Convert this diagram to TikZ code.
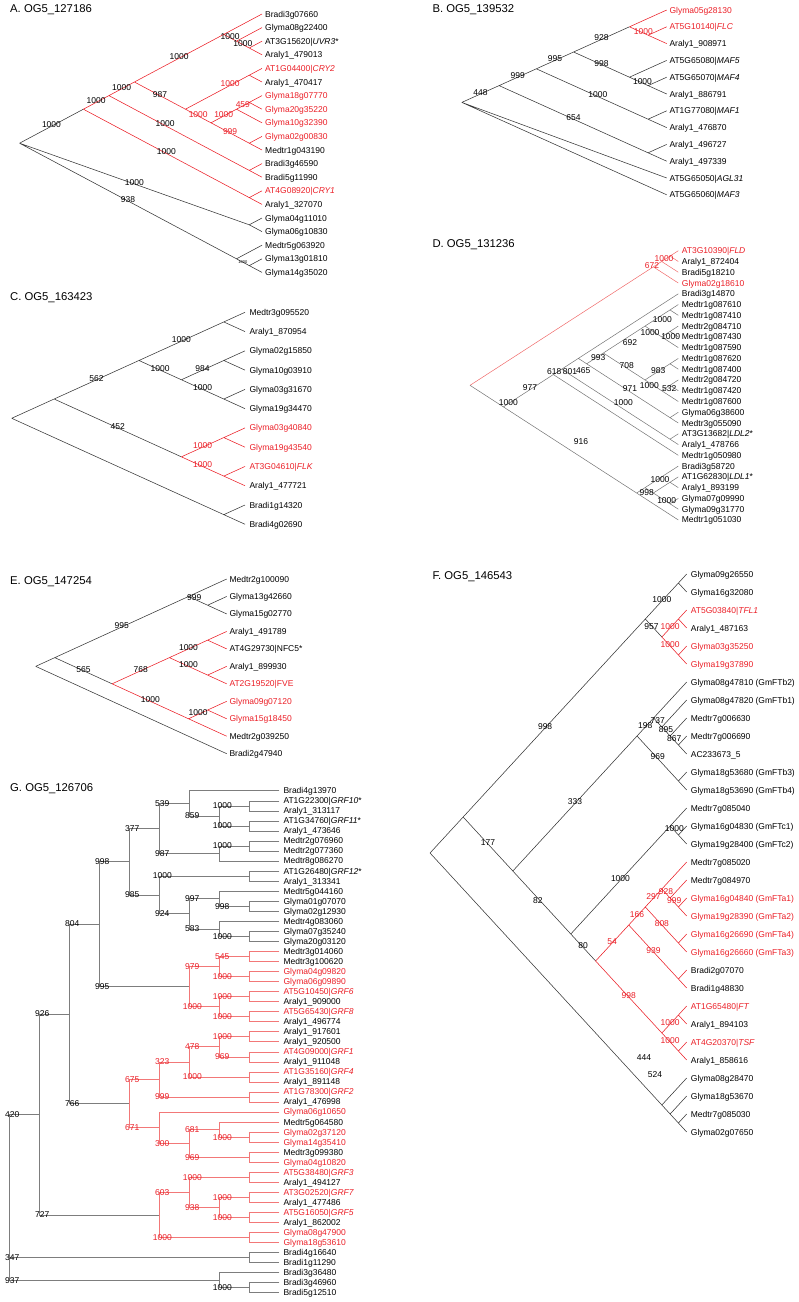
\documentclass[tikz,border=0pt]{standalone}
\usepackage{fontspec}
\setmainfont{Liberation Sans}
\usetikzlibrary{calc}
\definecolor{rd}{RGB}{235,30,38}
\definecolor{lk}{RGB}{55,55,55}
\definecolor{dk}{RGB}{115,115,115}
\definecolor{drd}{RGB}{240,105,105}
\definecolor{gk}{RGB}{125,125,125}
\definecolor{grd}{RGB}{242,120,120}
\newcounter{nn}
\newcommand\TX{0}\newcommand\YZ{0}\newcommand\DY{1}\newcommand\SL{1}\newcommand\LX{0}
\newcommand\setp[5]{\renewcommand\TX{#1}\renewcommand\YZ{#2}\renewcommand\DY{#3}\renewcommand\SL{#4}\renewcommand\LX{#5}}
\newcommand\lf[4][]{%
  \coordinate (#2) at (\TX,{\YZ+(#3)*\DY});
  \node[lab,#1] (#2t) at (\LX,{\YZ+(#3)*\DY+3}) {#4};}
\newcommand\nd[3]{\coordinate (#1) at ({\TX-((#3)-(#2))*\DY/2/\SL},{\YZ+((#2)+(#3))*\DY/2});}
\newcommand\gn[3]{\coordinate (#1) at (#2,{790.7+(#3)*10.04});}
\newcommand\gl[4][]{\node[sup,xshift=3pt,#1] at (#2 |- #3) {#4};}
\tikzset{
  an/.code={\stepcounter{nn}\pgfkeysalso{name=n\arabic{nn}}},
  f85/.style={font=\fontsize{8.5}{10}\selectfont},
  lab/.style={f85, anchor=base west, inner sep=0pt},
  rl/.style={text=rd},
  sup/.style={an, f85, inner sep=0pt, anchor=center},
  bs/.style={sup, midway, yshift=1.5pt},
  rs/.style={text=rd},
  kb/.style={draw=lk, line width=0.55pt},
  rb/.style={draw=rd, line width=0.55pt},
  kd/.style={draw=dk, line width=0.5pt},
  rdd/.style={draw=drd, line width=0.5pt},
  kg/.style={draw=gk, line width=0.5pt},
  rg/.style={draw=grd, line width=0.5pt},
  title/.style={font=\fontsize{11.3}{13}\selectfont, anchor=base west, inner sep=0pt}
}
\begin{document}
\begin{tikzpicture}[x=1pt,y=-1pt]
\useasboundingbox (0,0) rectangle (799,1302);
% ================= A =================
\setp{262}{14}{13.6}{0.533}{265}
\node[title] (aT) at (10,12) {A. OG5\_127186};
\lf{a0}{0}{Bradi3g07660}
\lf{a1}{1}{Glyma08g22400}
\lf{a2}{2}{AT3G15620|\textit{UVR3}*}
\lf{a3}{3}{Araly1\_479013}
\lf[rl]{a4}{4}{AT1G04400|\textit{CRY2}}
\lf{a5}{5}{Araly1\_470417}
\lf[rl]{a6}{6}{Glyma18g07770}
\lf[rl]{a7}{7}{Glyma20g35220}
\lf[rl]{a8}{8}{Glyma10g32390}
\lf[rl]{a9}{9}{Glyma02g00830}
\lf{a10}{10}{Medtr1g043190}
\lf{a11}{11}{Bradi3g46590}
\lf{a12}{12}{Bradi5g11990}
\lf[rl]{a13}{13}{AT4G08920|\textit{CRY1}}
\lf{a14}{14}{Araly1\_327070}
\lf{a15}{15}{Glyma04g11010}
\lf{a16}{16}{Glyma06g10830}
\lf{a17}{17}{Medtr5g063920}
\lf{a18}{18}{Glyma13g01810}
\lf{a19}{19}{Glyma14g35020}
\nd{aR}{0}{19}\nd{aN1}{0}{14}\nd{aN2}{0}{12}\nd{aN3}{0}{10}\nd{aC}{0}{3}\nd{aC1}{1}{3}\nd{aC2}{2}{3}
\nd{aN4}{4}{10}\nd{aP45}{4}{5}\nd{aN610}{6}{10}\nd{aN68}{6}{8}\nd{aP67}{6}{7}\nd{aP910}{9}{10}
\nd{aP1112}{11}{12}\nd{aP1314}{13}{14}\nd{aP1516}{15}{16}\nd{aN1719}{17}{19}\nd{aP1819}{18}{19}
\draw[kb] (aR) -- (aN1) node[bs]{1000} (aR) -- (aP1516) node[bs]{1000} (aR) -- (aN1719) node[bs]{938}
  (aP1516) -- (a15) (aP1516) -- (a16) (aN1719) -- (a17)
  (aN1719) -- (aP1819) node[bs,yshift=-1.5pt,font=\fontsize{4}{5}\selectfont]{1000}
  (aP1819) -- (a18) (aP1819) -- (a19);
\draw[rb] (aN1) -- (aN2) node[bs]{1000} (aN1) -- (aP1314) node[bs]{1000}
  (aN2) -- (aN3) node[bs]{1000} (aN2) -- (aP1112) node[bs,pos=0.4]{1000}
  (aN3) -- (aC) node[bs]{1000} (aN3) -- (aN4) node[bs]{987}
  (aC) -- (a0) (aC) -- (aC1) node[bs]{1000} (aC1) -- (a1) (aC1) -- (aC2) node[bs]{1000} (aC2) -- (a2) (aC2) -- (a3)
  (aN4) -- (aP45) node[bs,rs,pos=0.7]{1000} (aN4) -- (aN610) node[bs,rs]{1000}
  (aP45) -- (a4) (aP45) -- (a5)
  (aN610) -- (aN68) node[bs,rs]{1000} (aN610) -- (aP910) node[bs,rs]{999}
  (aN68) -- (aP67) node[bs,rs]{459} (aN68) -- (a8) (aP67) -- (a6) (aP67) -- (a7)
  (aP910) -- (a9) (aP910) -- (a10) (aP1112) -- (a11) (aP1112) -- (a12) (aP1314) -- (a13) (aP1314) -- (a14);
% ================= B =================
\setp{666.7}{10}{16.8}{0.451}{669.3}
\node[title] (bT) at (432.3,12.3) {B. OG5\_139532};
\lf[rl]{b0}{0}{Glyma05g28130}
\lf[rl]{b1}{1}{AT5G10140|\textit{FLC}}
\lf{b2}{2}{Araly1\_908971}
\lf{b3}{3}{AT5G65080|\textit{MAF5}}
\lf{b4}{4}{AT5G65070|\textit{MAF4}}
\lf{b5}{5}{Araly1\_886791}
\lf{b6}{6}{AT1G77080|\textit{MAF1}}
\lf{b7}{7}{Araly1\_476870}
\lf{b8}{8}{Araly1\_496727}
\lf{b9}{9}{Araly1\_497339}
\lf{b10}{10}{AT5G65050|\textit{AGL31}}
\lf{b11}{11}{AT5G65060|\textit{MAF3}}
\nd{bR}{0}{11}\nd{bN09}{0}{9}\nd{bN07}{0}{7}\nd{bN05}{0}{5}\nd{bN02}{0}{2}\nd{bP12}{1}{2}
\nd{bN35}{3}{5}\nd{bP45}{4}{5}\nd{bP67}{6}{7}\nd{bP89}{8}{9}
\draw[kb] (bR) -- (bN09) node[bs]{448} (bR) -- (b10) (bR) -- (b11)
  (bN09) -- (bN07) node[bs]{999} (bN09) -- (bP89) node[bs]{654}
  (bN07) -- (bN05) node[bs]{995} (bN07) -- (bP67) node[bs,pos=0.55]{1000}
  (bN05) -- (bN02) node[bs]{928} (bN05) -- (bN35) node[bs]{998}
  (bN35) -- (b3) (bN35) -- (bP45) node[bs,pos=0.7]{1000} (bP45) -- (b4) (bP45) -- (b5)
  (bP67) -- (b6) (bP67) -- (b7) (bP89) -- (b8) (bP89) -- (b9);
\draw[rb] (bN02) -- (b0) (bN02) -- (bP12) node[bs,rs,pos=0.75]{1000} (bP12) -- (b1) (bP12) -- (b2);
% ================= C =================
\setp{245}{312.3}{19.27}{0.4543}{249.3}
\node[title] (cT) at (10,300) {C. OG5\_163423};
\lf{c0}{0}{Medtr3g095520}
\lf{c1}{1}{Araly1\_870954}
\lf{c2}{2}{Glyma02g15850}
\lf{c3}{3}{Glyma10g03910}
\lf{c4}{4}{Glyma03g31670}
\lf{c5}{5}{Glyma19g34470}
\lf[rl]{c6}{6}{Glyma03g40840}
\lf[rl]{c7}{7}{Glyma19g43540}
\lf[rl]{c8}{8}{AT3G04610|\textit{FLK}}
\lf{c9}{9}{Araly1\_477721}
\lf{c10}{10}{Bradi1g14320}
\lf{c11}{11}{Bradi4g02690}
\nd{cR}{0}{11}\nd{cN09}{0}{9}\nd{cN05}{0}{5}\nd{cP01}{0}{1}\nd{cN25}{2}{5}\nd{cP23}{2}{3}\nd{cP45}{4}{5}
\nd{cN69}{6}{9}\nd{cP67}{6}{7}\nd{cP89}{8}{9}\nd{cP1011}{10}{11}
\draw[kb] (cR) -- (cN09) (cR) -- (cP1011)
  (cN09) -- (cN05) node[bs]{562} (cN09) -- (cN69) node[bs]{452}
  (cN05) -- (cP01) node[bs]{1000} (cN05) -- (cN25) node[bs]{1000}
  (cN25) -- (cP23) node[bs]{984} (cN25) -- (cP45) node[bs]{1000}
  (cP01) -- (c0) (cP01) -- (c1) (cP23) -- (c2) (cP23) -- (c3) (cP45) -- (c4) (cP45) -- (c5)
  (cP1011) -- (c10) (cP1011) -- (c11);
\draw[rb] (cN69) -- (cP67) node[bs,rs]{1000} (cN69) -- (cP89) node[bs,rs]{1000}
  (cP67) -- (c6) (cP67) -- (c7) (cP89) -- (c8) (cP89) -- (c9);
% ================= D =================
\setp{678.3}{250.7}{10.77}{0.6464}{681.7}
\node[title] (dT) at (432.3,247.3) {D. OG5\_131236};
\lf[rl]{d0}{0}{AT3G10390|\textit{FLD}}
\lf{d1}{1}{Araly1\_872404}
\lf{d2}{2}{Bradi5g18210}
\lf[rl]{d3}{3}{Glyma02g18610}
\lf{d4}{4}{Bradi3g14870}
\lf{d5}{5}{Medtr1g087610}
\lf{d6}{6}{Medtr1g087410}
\lf{d7}{7}{Medtr2g084710}
\lf{d8}{8}{Medtr1g087430}
\lf{d9}{9}{Medtr1g087590}
\lf{d10}{10}{Medtr1g087620}
\lf{d11}{11}{Medtr1g087400}
\lf{d12}{12}{Medtr2g084720}
\lf{d13}{13}{Medtr1g087420}
\lf{d14}{14}{Medtr1g087600}
\lf{d15}{15}{Glyma06g38600}
\lf{d16}{16}{Medtr3g055090}
\lf{d17}{17}{AT3G13682|\textit{LDL2}*}
\lf{d18}{18}{Araly1\_478766}
\lf{d19}{19}{Medtr1g050980}
\lf{d20}{20}{Bradi3g58720}
\lf{d21}{21}{AT1G62830|\textit{LDL1}*}
\lf{d22}{22}{Araly1\_893199}
\lf{d23}{23}{Glyma07g09990}
\lf{d24}{24}{Glyma09g31770}
\lf{d25}{25}{Medtr1g051030}
\nd{dR}{0}{25}\nd{dN03}{0}{3}\nd{dN02}{0}{2}\nd{dP01}{0}{1}
\nd{dN425}{4}{25}\nd{dN419}{4}{19}\nd{dN418}{4}{18}\nd{dN416}{4}{16}\nd{dN516}{5}{16}\nd{dN514}{5}{14}
\nd{dN59}{5}{9}\nd{dP56}{5}{6}\nd{dN79}{7}{9}\nd{dP78}{7}{8}
\nd{dN1014}{10}{14}\nd{dP1011}{10}{11}\nd{dN1214}{12}{14}\nd{dP1213}{12}{13}
\nd{dP1516}{15}{16}\nd{dP1718}{17}{18}
\nd{dN2025}{20}{25}\nd{dN2024}{20}{24}\nd{dN2124}{21}{24}\nd{dP2122}{21}{22}\nd{dP2324}{23}{24}
\draw[rdd] (dR) -- (dN03) (dN03) -- (dN02) (dN03) -- (d3) (dN02) -- (dP01) (dN02) -- (d2) (dP01) -- (d0) (dP01) -- (d1);
\draw[kd] (dR) -- (dN425) (dN425) -- (dN419) (dN425) -- (dN2025)
  (dN419) -- (dN418) (dN419) -- (d19) (dN418) -- (dN416) (dN418) -- (dP1718)
  (dN416) -- (d4) (dN416) -- (dN516) (dN516) -- (dN514) (dN516) -- (dP1516)
  (dN514) -- (dN59) (dN514) -- (dN1014)
  (dN59) -- (dP56) (dN59) -- (dN79) (dN79) -- (dP78) (dN79) -- (d9)
  (dP78) -- (d7) (dP78) -- (d8) (dP56) -- (d5) (dP56) -- (d6)
  (dN1014) -- (dP1011) (dN1014) -- (dN1214) (dN1214) -- (dP1213) (dN1214) -- (d14)
  (dP1213) -- (d12) (dP1213) -- (d13) (dP1011) -- (d10) (dP1011) -- (d11)
  (dP1516) -- (d15) (dP1516) -- (d16) (dP1718) -- (d17) (dP1718) -- (d18)
  (dN2025) -- (dN2024) (dN2025) -- (d25) (dN2024) -- (d20) (dN2024) -- (dN2124)
  (dN2124) -- (dP2122) (dN2124) -- (dP2324) (dP2122) -- (d21) (dP2122) -- (d22) (dP2324) -- (d23) (dP2324) -- (d24);
\node[sup,rs] at (652,265.5) {672};
\node[sup,rs] at (664,258.5) {1000};
\node[sup] at (508.3,402.7) {1000};
\node[sup] at (530,387.7) {977};
\node[sup] at (581,441.7) {916};
\node[sup] at (554.3,371.7) {618};
\node[sup] at (570,371.7) {801};
\node[sup] at (583.3,370.7) {465};
\node[sup] at (598.3,357.7) {993};
\node[sup] at (630,342.3) {692};
\node[sup] at (662.3,320) {1000};
\node[sup] at (650,332.3) {1000};
\node[sup] at (670.7,336.7) {1000};
\node[sup] at (626.7,366) {708};
\node[sup] at (658.3,371) {983};
\node[sup] at (649.3,385.3) {1000};
\node[sup] at (669.3,388.3) {532};
\node[sup] at (630,389) {971};
\node[sup] at (623.3,402.3) {1000};
\node[sup] at (646.7,492.7) {998};
\node[sup] at (660,479.3) {1000};
\node[sup] at (666.7,500.7) {1000};
% ================= E =================
\setp{226.7}{579}{17.47}{0.4573}{229.3}
\node[title] (eT) at (10,584.7) {E. OG5\_147254};
\lf{e0}{0}{Medtr2g100090}
\lf{e1}{1}{Glyma13g42660}
\lf{e2}{2}{Glyma15g02770}
\lf{e3}{3}{Araly1\_491789}
\lf{e4}{4}{AT4G29730|NFC5*}
\lf{e5}{5}{Araly1\_899930}
\lf[rl]{e6}{6}{AT2G19520|FVE}
\lf[rl]{e7}{7}{Glyma09g07120}
\lf[rl]{e8}{8}{Glyma15g18450}
\lf{e9}{9}{Medtr2g039250}
\lf{e10}{10}{Bradi2g47940}
\nd{eR}{0}{10}\nd{eN09}{0}{9}\nd{eN02}{0}{2}\nd{eP12}{1}{2}\nd{eN39}{3}{9}\nd{eN36}{3}{6}
\nd{eP34}{3}{4}\nd{eP56}{5}{6}\nd{eN79}{7}{9}\nd{eP78}{7}{8}
\draw[kb] (eR) -- (eN09) (eR) -- (e10) (eN09) -- (eN02) node[bs]{995} (eN09) -- (eN39) node[bs]{565}
  (eN02) -- (e0) (eN02) -- (eP12) node[bs,pos=0.3]{999} (eP12) -- (e1) (eP12) -- (e2);
\draw[rb] (eN39) -- (eN36) node[bs]{768} (eN39) -- (eN79) node[bs]{1000}
  (eN36) -- (eP34) node[bs]{1000} (eN36) -- (eP56) node[bs]{1000}
  (eP34) -- (e3) (eP34) -- (e4) (eP56) -- (e5) (eP56) -- (e6)
  (eN79) -- (eP78) node[bs]{1000} (eN79) -- (e9) (eP78) -- (e7) (eP78) -- (e8);
% ================= F =================
\setp{686.7}{574}{18}{1.087}{690.7}
\node[title] (fT) at (432.3,579.7) {F. OG5\_146543};
\lf{f0}{0}{Glyma09g26550}
\lf{f1}{1}{Glyma16g32080}
\lf[rl]{f2}{2}{AT5G03840|\textit{TFL1}}
\lf{f3}{3}{Araly1\_487163}
\lf[rl]{f4}{4}{Glyma03g35250}
\lf[rl]{f5}{5}{Glyma19g37890}
\lf{f6}{6}{Glyma08g47810 (GmFTb2)}
\lf{f7}{7}{Glyma08g47820 (GmFTb1)}
\lf{f8}{8}{Medtr7g006630}
\lf{f9}{9}{Medtr7g006690}
\lf{f10}{10}{AC233673\_5}
\lf{f11}{11}{Glyma18g53680 (GmFTb3)}
\lf{f12}{12}{Glyma18g53690 (GmFTb4)}
\lf{f13}{13}{Medtr7g085040}
\lf{f14}{14}{Glyma16g04830 (GmFTc1)}
\lf{f15}{15}{Glyma19g28400 (GmFTc2)}
\lf{f16}{16}{Medtr7g085020}
\lf{f17}{17}{Medtr7g084970}
\lf[rl]{f18}{18}{Glyma16g04840 (GmFTa1)}
\lf[rl]{f19}{19}{Glyma19g28390 (GmFTa2)}
\lf[rl]{f20}{20}{Glyma16g26690 (GmFTa4)}
\lf[rl]{f21}{21}{Glyma16g26660 (GmFTa3)}
\lf{f22}{22}{Bradi2g07070}
\lf{f23}{23}{Bradi1g48830}
\lf[rl]{f24}{24}{AT1G65480|\textit{FT}}
\lf{f25}{25}{Araly1\_894103}
\lf[rl]{f26}{26}{AT4G20370|\textit{TSF}}
\lf{f27}{27}{Araly1\_858616}
\lf{f28}{28}{Glyma08g28470}
\lf{f29}{29}{Glyma18g53670}
\lf{f30}{30}{Medtr7g085030}
\lf{f31}{31}{Glyma02g07650}
\nd{fR}{0}{31}\nd{fX}{0}{27}\nd{fN05}{0}{5}\nd{fP01}{0}{1}\nd{fN25}{2}{5}\nd{fP23}{2}{3}\nd{fP45}{4}{5}
\nd{fY}{6}{27}\nd{fN612}{6}{12}\nd{fN610}{6}{10}\nd{fN710}{7}{10}\nd{fN810}{8}{10}\nd{fP910}{9}{10}\nd{fP1112}{11}{12}
\nd{fZ}{13}{27}\nd{fN1315}{13}{15}\nd{fP1415}{14}{15}\nd{fW}{16}{27}\nd{fN1623}{16}{23}\nd{fN1621}{16}{21}
\nd{fN1619}{16}{19}\nd{fN1719}{17}{19}\nd{fP1819}{18}{19}\nd{fP2021}{20}{21}\nd{fP2223}{22}{23}
\nd{fN2427}{24}{27}\nd{fP2425}{24}{25}\nd{fP2627}{26}{27}
\nd{fN2831}{28}{31}\nd{fN2931}{29}{31}\nd{fP3031}{30}{31}
\draw[kb] (fR) -- (fX) (fR) -- (fN2831)
  (fX) -- (fN05) node[bs,pos=0.45]{998} (fX) -- (fY) node[bs]{177}
  (fN05) -- (fP01) node[bs]{1000} (fN05) -- (fN25) node[bs,xshift=-2pt]{957}
  (fP01) -- (f0) (fP01) -- (f1)
  (fY) -- (fN612) node[bs]{333} (fY) -- (fZ) node[bs,xshift=-4pt]{82}
  (fN612) -- (fN610) node[bs]{198} (fN612) -- (fP1112) node[bs]{969}
  (fN610) -- (f6) (fN610) -- (fN710) node[bs]{737} (fN710) -- (f7) (fN710) -- (fN810) node[bs]{895}
  (fN810) -- (f8) (fN810) -- (fP910) node[bs]{867} (fP910) -- (f9) (fP910) -- (f10)
  (fP1112) -- (f11) (fP1112) -- (f12)
  (fZ) -- (fN1315) node[bs]{1000} (fZ) -- (fW) node[bs]{80}
  (fN1315) -- (f13) (fN1315) -- (fP1415) node[bs]{1000} (fP1415) -- (f14) (fP1415) -- (f15)
  (fN2831) -- (f28) (fN2831) -- (fN2931) (fN2931) -- (f29) (fN2931) -- (fP3031) (fP3031) -- (f30) (fP3031) -- (f31);
\draw[rb] (fN25) -- (fP23) node[bs,rs]{1000} (fN25) -- (fP45) node[bs,rs]{1000}
  (fP23) -- (f2) (fP23) -- (f3) (fP45) -- (f4) (fP45) -- (f5)
  (fW) -- (fN1623) node[bs,rs]{54} (fW) -- (fN2427) node[bs,rs]{998}
  (fN1623) -- (fN1621) node[bs,rs]{166} (fN1623) -- (fP2223) node[bs,rs]{939}
  (fN1621) -- (fN1619) node[bs,rs]{297} (fN1621) -- (fP2021) node[bs,rs]{808}
  (fN1619) -- (f16) (fN1619) -- (fN1719) node[bs,rs]{928} (fN1719) -- (f17) (fN1719) -- (fP1819) node[bs,rs]{999}
  (fP1819) -- (f18) (fP1819) -- (f19) (fP2021) -- (f20) (fP2021) -- (f21) (fP2223) -- (f22) (fP2223) -- (f23)
  (fN2427) -- (fP2425) node[bs,rs]{1000} (fN2427) -- (fP2627) node[bs,rs]{1000}
  (fP2425) -- (f24) (fP2425) -- (f25) (fP2627) -- (f26) (fP2627) -- (f27);
\node[sup] at (644,1058) {444};
\node[sup] at (655,1075) {524};
% ================= G =================
\setp{279.3}{790.7}{10.04}{1}{283.3}
\node[title] (gT) at (10,791.7) {G. OG5\_126706};
\lf{g0}{0}{Bradi4g13970}
\lf{g1}{1}{AT1G22300|\textit{GRF10}*}
\lf{g2}{2}{Araly1\_313117}
\lf{g3}{3}{AT1G34760|\textit{GRF11}*}
\lf{g4}{4}{Araly1\_473646}
\lf{g5}{5}{Medtr2g076960}
\lf{g6}{6}{Medtr2g077360}
\lf{g7}{7}{Medtr8g086270}
\lf{g8}{8}{AT1G26480|\textit{GRF12}*}
\lf{g9}{9}{Araly1\_313341}
\lf{g10}{10}{Medtr5g044160}
\lf{g11}{11}{Glyma01g07070}
\lf{g12}{12}{Glyma02g12930}
\lf{g13}{13}{Medtr4g083060}
\lf{g14}{14}{Glyma07g35240}
\lf{g15}{15}{Glyma20g03120}
\lf{g16}{16}{Medtr3g014060}
\lf{g17}{17}{Medtr3g100620}
\lf[rl]{g18}{18}{Glyma04g09820}
\lf[rl]{g19}{19}{Glyma06g09890}
\lf[rl]{g20}{20}{AT5G10450|\textit{GRF6}}
\lf{g21}{21}{Araly1\_909000}
\lf[rl]{g22}{22}{AT5G65430|\textit{GRF8}}
\lf{g23}{23}{Araly1\_496774}
\lf{g24}{24}{Araly1\_917601}
\lf{g25}{25}{Araly1\_920500}
\lf[rl]{g26}{26}{AT4G09000|\textit{GRF1}}
\lf{g27}{27}{Araly1\_911048}
\lf[rl]{g28}{28}{AT1G35160|\textit{GRF4}}
\lf{g29}{29}{Araly1\_891148}
\lf[rl]{g30}{30}{AT1G78300|\textit{GRF2}}
\lf{g31}{31}{Araly1\_476998}
\lf[rl]{g32}{32}{Glyma06g10650}
\lf{g33}{33}{Medtr5g064580}
\lf[rl]{g34}{34}{Glyma02g37120}
\lf[rl]{g35}{35}{Glyma14g35410}
\lf{g36}{36}{Medtr3g099380}
\lf[rl]{g37}{37}{Glyma04g10820}
\lf[rl]{g38}{38}{AT5G38480|\textit{GRF3}}
\lf{g39}{39}{Araly1\_494127}
\lf[rl]{g40}{40}{AT3G02520|\textit{GRF7}}
\lf{g41}{41}{Araly1\_477486}
\lf[rl]{g42}{42}{AT5G16050|\textit{GRF5}}
\lf{g43}{43}{Araly1\_862002}
\lf[rl]{g44}{44}{Glyma08g47900}
\lf[rl]{g45}{45}{Glyma18g53610}
\lf{g46}{46}{Bradi4g16640}
\lf{g47}{47}{Bradi1g11290}
\lf{g48}{48}{Bradi3g36480}
\lf{g49}{49}{Bradi3g46960}
\lf{g50}{50}{Bradi5g12510}
\gn{gR}{9.3}{40.49}\gn{g420}{39.3}{32.234}\gn{g926}{69.3}{22.219}\gn{g804}{99.3}{13.281}
\gn{g998}{129.3}{7.0625}\gn{g377}{159.3}{3.75}\gn{g539}{189.3}{1.25}\gn{g859}{219.3}{2.5}
\gn{gp12}{249.3}{1.5}\gn{gp34}{249.3}{3.5}\gn{g987}{219.3}{6.25}\gn{gp56}{249.3}{5.5}
\gn{g985}{159.3}{10.375}\gn{gp89}{249.3}{8.5}\gn{g924}{189.3}{12.25}\gn{g997}{219.3}{10.75}
\gn{gp1112}{249.3}{11.5}\gn{g583}{219.3}{13.75}\gn{gp1415}{249.3}{14.5}
\gn{g995}{189.3}{19.5}\gn{g979}{219.3}{17.5}\gn{gp1617}{249.3}{16.5}\gn{gp1819}{249.3}{18.5}
\gn{gq}{219.3}{21.5}\gn{gp2021}{249.3}{20.5}\gn{gp2223}{249.3}{22.5}
\gn{g766}{129.3}{31.156}\gn{g675}{159.3}{28.75}\gn{g323}{189.3}{27}\gn{g478}{219.3}{25.5}
\gn{gp2425}{249.3}{24.5}\gn{gp2627}{249.3}{26.5}\gn{gp2829}{249.3}{28.5}\gn{gp3031}{249.3}{30.5}
\gn{g671}{159.3}{33.5625}\gn{g300}{189.3}{35.125}\gn{g681}{219.3}{33.75}
\gn{gp3435}{249.3}{34.5}\gn{gp3637}{249.3}{36.5}
\gn{g727}{159.3}{42.25}\gn{g603}{189.3}{40}\gn{gp3839}{249.3}{38.5}\gn{g938}{219.3}{41.5}
\gn{gp4041}{249.3}{40.5}\gn{gp4243}{249.3}{42.5}\gn{gp4445}{249.3}{44.5}
\gn{gp4647}{249.3}{46.5}\gn{g937}{219.3}{48.75}\gn{gp4950}{249.3}{49.5}
\draw[kg] (g420) -| (gR) |- (g937) (gR |- gp4647) -- (gp4647)
  (g926) -| (g420) |- (g727) (g804) -| (g926) |- (g766) (g998) -| (g804) |- (g995)
  (g377) -| (g998) |- (g985) (g539) -| (g377) |- (g987) (g0) -| (g539) |- (g859)
  (gp12) -| (g859) |- (gp34) (g1) -| (gp12) |- (g2) (g3) -| (gp34) |- (g4)
  (gp56) -| (g987) |- (g7) (g5) -| (gp56) |- (g6)
  (gp89) -| (g985) |- (g924) (g8) -| (gp89) |- (g9) (g997) -| (g924) |- (g583)
  (g10) -| (g997) |- (gp1112) (g11) -| (gp1112) |- (g12)
  (g13) -| (g583) |- (gp1415) (g14) -| (gp1415) |- (g15)
  (g46) -| (gp4647) |- (g47) (g48) -| (g937) |- (gp4950) (g49) -| (gp4950) |- (g50);
\draw[rg] (g979) -| (g995) |- (gq) (gp1617) -| (g979) |- (gp1819) (g16) -| (gp1617) |- (g17)
  (g18) -| (gp1819) |- (g19) (gp2021) -| (gq) |- (gp2223) (g20) -| (gp2021) |- (g21) (g22) -| (gp2223) |- (g23)
  (g675) -| (g766) |- (g671) (g323) -| (g675) |- (gp3031) (g478) -| (g323) |- (gp2829)
  (gp2425) -| (g478) |- (gp2627) (g24) -| (gp2425) |- (g25) (g26) -| (gp2627) |- (g27)
  (g28) -| (gp2829) |- (g29) (g30) -| (gp3031) |- (g31)
  (g32) -| (g671) |- (g300) (g681) -| (g300) |- (gp3637) (g33) -| (g681) |- (gp3435)
  (g34) -| (gp3435) |- (g35) (g36) -| (gp3637) |- (g37)
  (g603) -| (g727) |- (gp4445) (gp3839) -| (g603) |- (g938) (gp4041) -| (g938) |- (gp4243)
  (g38) -| (gp3839) |- (g39) (g40) -| (gp4041) |- (g41) (g42) -| (gp4243) |- (g43) (g44) -| (gp4445) |- (g45);
\gl{gR}{g420}{420}\gl{gR}{gp4647}{347}\gl{gR}{g937}{937}
\gl{g420}{g926}{926}\gl{g420}{g727}{727}
\gl{g926}{g804}{804}\gl{g926}{g766}{766}
\gl{g804}{g998}{998}\gl{g804}{g995}{995}
\gl{g998}{g377}{377}\gl{g998}{g985}{985}
\gl{g377}{g539}{539}\gl{g377}{g987}{987}
\gl{g539}{g859}{859}
\gl{g859}{gp12}{1000}\gl{g859}{gp34}{1000}
\gl{g987}{gp56}{1000}
\gl{g985}{gp89}{1000}\gl{g985}{g924}{924}
\gl{g924}{g997}{997}\gl{g924}{g583}{583}
\gl{g997}{gp1112}{998}\gl{g583}{gp1415}{1000}
\gl{g937}{gp4950}{1000}
\gl[rs]{g995}{g979}{979}\gl[rs]{g995}{gq}{1000}
\gl[rs]{g979}{gp1617}{545}\gl[rs]{g979}{gp1819}{1000}
\gl[rs]{gq}{gp2021}{1000}\gl[rs]{gq}{gp2223}{1000}
\gl[rs]{g766}{g675}{675}\gl[rs]{g766}{g671}{671}
\gl[rs]{g675}{g323}{323}\gl[rs]{g675}{gp3031}{999}
\gl[rs]{g323}{g478}{478}\gl[rs]{g323}{gp2829}{1000}
\gl[rs]{g478}{gp2425}{1000}\gl[rs]{g478}{gp2627}{969}
\gl[rs]{g671}{g300}{300}
\gl[rs]{g300}{g681}{681}\gl[rs]{g300}{gp3637}{969}
\gl[rs]{g681}{gp3435}{1000}
\gl[rs]{g727}{g603}{603}\gl[rs]{g727}{gp4445}{1000}
\gl[rs]{g603}{gp3839}{1000}\gl[rs]{g603}{g938}{938}
\gl[rs]{g938}{gp4041}{1000}\gl[rs]{g938}{gp4243}{1000}
\end{tikzpicture}
\end{document}
